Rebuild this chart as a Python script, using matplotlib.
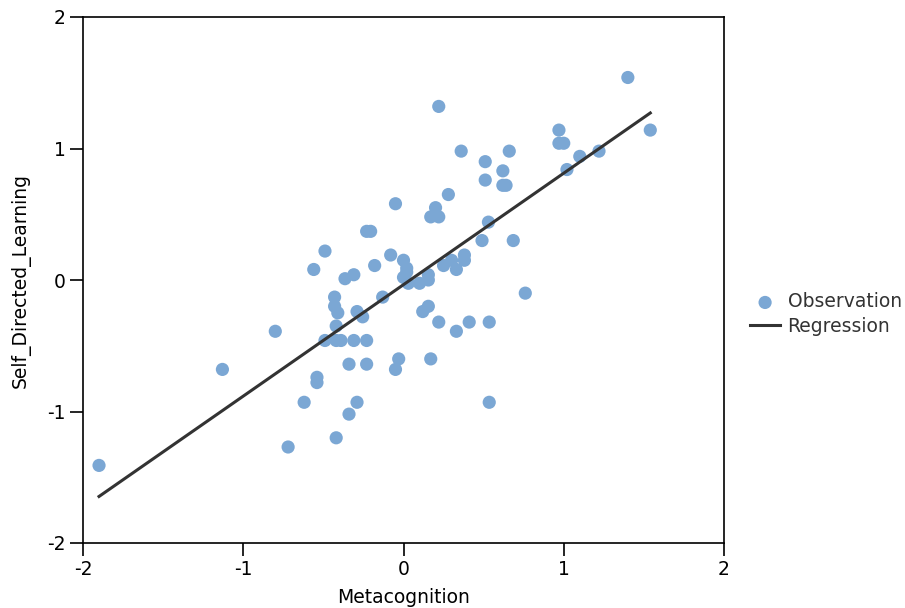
import numpy as np
import matplotlib
matplotlib.use("Agg")
import matplotlib.pyplot as plt
from matplotlib.ticker import FuncFormatter

metacognition = [
    -1.90, -1.13, -0.80, -0.72, -0.62, -0.54, -0.54, -0.56, -0.49, -0.49,
    -0.43, -0.43, -0.41, -0.42, -0.42, -0.39, -0.42, -0.365, -0.34, -0.34,
    -0.31, -0.31, -0.29, -0.29, -0.255, -0.23, -0.205, -0.23, -0.23, -0.18,
    -0.13, -0.08, -0.05, -0.05, -0.03, 0.00, 0.00, 0.02, 0.02, 0.03,
    0.10, 0.155, 0.155, 0.25, 0.30, 0.33, 0.38, 0.38, 0.155, 0.12,
    0.22, 0.33, 0.41, 0.535, 0.17, 0.535, 0.76, 0.22, 0.36, 0.51,
    0.66, 0.62, 0.51, 0.62, 0.64, 0.28, 0.20, 0.17, 0.22, 0.53,
    0.49, 0.685, 0.97, 0.97, 1.00, 1.02, 1.10, 1.22, 1.40, 1.54,
]
self_directed = [
    -1.41, -0.68, -0.39, -1.27, -0.93, -0.74, -0.78, 0.08, 0.22, -0.46,
    -0.13, -0.20, -0.25, -0.35, -0.46, -0.46, -1.20, 0.01, -0.64, -1.02,
    0.04, -0.46, -0.24, -0.93, -0.28, 0.37, 0.37, -0.46, -0.64, 0.11,
    -0.13, 0.19, 0.58, -0.68, -0.60, 0.15, 0.02, 0.09, 0.06, -0.025,
    -0.025, 0.04, 0.00, 0.11, 0.15, 0.08, 0.19, 0.15, -0.20, -0.24,
    -0.32, -0.39, -0.32, -0.32, -0.60, -0.93, -0.10, 1.32, 0.98, 0.90,
    0.98, 0.83, 0.76, 0.72, 0.72, 0.65, 0.55, 0.48, 0.48, 0.44,
    0.30, 0.30, 1.14, 1.04, 1.04, 0.84, 0.94, 0.98, 1.54, 1.14,
]
ticks = [-2, -1, 0, 1, 2]

x = np.array(metacognition)
y = np.array(self_directed)
slope, intercept = np.polyfit(x, y, 1)
xl = np.array([x.min(), x.max()])
yl = slope * xl + intercept

plt.rcParams['font.family'] = ['DejaVu Sans']
fig = plt.figure(figsize=(9.05, 6.08), dpi=100)
ax = fig.add_axes([83/905, 1-543/608, (724-83)/905, (543-17)/608])

ax.scatter(x, y, s=90, color="#7ba7d4", edgecolors="none", label="Observation", zorder=2)
ax.plot(xl, yl, color="#333333", linewidth=2.2, label="Regression", zorder=3)

ax.set_xlim(-2, 2)
ax.set_ylim(-2, 2)
ax.set_xticks(ticks)
ax.set_yticks(ticks)
fmt = FuncFormatter(lambda v, p: str(int(round(v))).replace("\u2212", "-"))
ax.xaxis.set_major_formatter(fmt)
ax.yaxis.set_major_formatter(fmt)
ax.tick_params(length=9.5, width=1.2, labelsize=13.5, colors="black", pad=3)
for sp in ax.spines.values():
    sp.set_linewidth(1.2)

ax.set_xlabel("Metacognition", fontsize=13.5, labelpad=6)
ax.set_ylabel("Self_Directed_Learning", fontsize=13.5, labelpad=12)

leg = ax.legend(loc="center left", bbox_to_anchor=(1.029, 0.435), frameon=False,
                fontsize=13.5, handlelength=1.6, handletextpad=0.4, labelspacing=0.3,
                borderaxespad=0)
for t in leg.get_texts():
    t.set_color("#333333")

fig.savefig("out.png", dpi=100)
